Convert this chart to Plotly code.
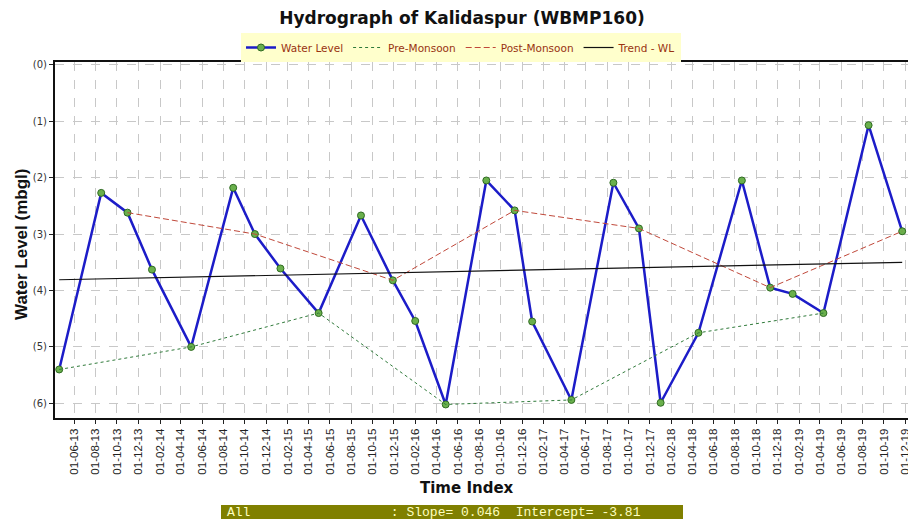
import pandas as pd
import plotly.graph_objects as go

# ---------------- data ----------------
dates = ["2013-04-19", "2013-08-17", "2013-10-31", "2014-01-09", "2014-05-01",
         "2014-08-29", "2014-10-30", "2015-01-11", "2015-04-30", "2015-08-29",
         "2015-11-28", "2016-01-31", "2016-04-27", "2016-08-21", "2016-11-10",
         "2016-12-30", "2017-04-21", "2017-08-19", "2017-10-31", "2018-01-01",
         "2018-04-19", "2018-08-21", "2018-11-10", "2019-01-13", "2019-04-11",
         "2019-08-18", "2019-11-22"]
water_level = [5.40, 2.27, 2.62, 3.63, 5.00, 2.18, 3.00, 3.61, 4.40, 2.67,
               3.82, 4.54, 6.02, 2.05, 2.58, 4.55, 5.94, 2.09, 2.90, 5.99,
               4.75, 2.05, 3.95, 4.06, 4.40, 1.07, 2.95]

pre_dates = ["2013-04-19", "2014-05-01", "2015-04-30", "2016-04-27",
             "2017-04-21", "2018-04-19", "2019-04-11"]
pre_level = [5.40, 5.00, 4.40, 6.02, 5.94, 4.75, 4.40]

post_dates = ["2013-10-31", "2014-10-30", "2015-11-28", "2016-11-10",
              "2017-10-31", "2018-11-10", "2019-11-22"]
post_level = [2.62, 3.00, 3.82, 2.58, 2.90, 3.95, 2.95]

trend_dates = ["2013-04-19", "2019-11-22"]
trend_level = [3.81, 3.50]

y_tick_vals = [0, 1, 2, 3, 4, 5, 6]
y_tick_text = ["(0)", "(1)", "(2)", "(3)", "(4)", "(5)", "(6)"]

x_ticks = pd.date_range("2013-06-01", "2019-12-01", freq="2MS")
x_tick_text = [d.strftime("%d-%m-%y") for d in x_ticks]

title_text = "Hydrograph of Kalidaspur (WBMP160)"
stats_text = "All                  : Slope= 0.046  Intercept= -3.81"

# ---------------- figure ----------------
# the page body has an 8px margin: shift everything by it
OFF = 8
W, H = 916 - OFF, 526 - OFF
L, R, T, B = 55 - OFF, 912 - OFF, 62 - OFF, 418 - OFF

SANS = "DejaVu Sans, Verdana, sans-serif"
ARIAL = "Liberation Sans, Arial, sans-serif"


def px(x):
    return (x - OFF - L) / (R - L)


def py(y):
    return (B - (y - OFF)) / (B - T)


fig = go.Figure()
fig.add_trace(go.Scatter(
    x=dates, y=water_level, name="Water Level", mode="lines+markers",
    line=dict(color="#1c1cc8", width=2.5),
    marker=dict(size=7, color="#6ab04c", line=dict(color="#2f6b22", width=1)),
))
fig.add_trace(go.Scatter(
    x=pre_dates, y=pre_level, name="Pre-Monsoon", mode="lines",
    line=dict(color="#2f7a3a", width=1, dash="3px,3px"),
))
fig.add_trace(go.Scatter(
    x=post_dates, y=post_level, name="Post-Monsoon", mode="lines",
    line=dict(color="#c0483a", width=1, dash="6px,3px"),
))
fig.add_trace(go.Scatter(
    x=trend_dates, y=trend_level, name="Trend - WL", mode="lines",
    line=dict(color="#111111", width=1.2),
))

fig.update_layout(
    width=W, height=H,
    margin=dict(l=L, r=W - R, t=T, b=H - B, autoexpand=False),
    paper_bgcolor="white", plot_bgcolor="white",
    font=dict(family=ARIAL, color="#222"),
    title=dict(text="<b>" + title_text + "</b>", x=(462 - OFF) / W,
               xanchor="center", y=1 - (18 - OFF) / H, yanchor="middle",
               font=dict(family=SANS, size=17, color="#111")),
    showlegend=True,
    legend=dict(orientation="h", x=px(461), xanchor="center",
                y=py(33), yanchor="top", bgcolor="#ffffcc",
                font=dict(family=SANS, size=10.5, color="#993311"),
                itemwidth=30, tracegroupgap=0),
    xaxis=dict(
        type="date", range=["2013-04-07", "2019-12-20"],
        tickmode="array", tickvals=list(x_ticks), ticktext=x_tick_text,
        tickangle=-90, tickfont=dict(family=ARIAL, size=11.5, color="#222"),
        ticks="outside", ticklen=4, tickcolor="#222",
        showgrid=True, gridcolor="#c8c8c8", griddash="dash", gridwidth=1,
        showline=True, linecolor="#111", linewidth=2, mirror=True,
        zeroline=False,
    ),
    yaxis=dict(
        range=[6.26, -0.05], tickmode="array", tickvals=y_tick_vals,
        ticktext=y_tick_text, tickfont=dict(family=SANS, size=10, color="#333"),
        ticks="outside", ticklen=4, tickcolor="#222",
        showgrid=True, gridcolor="#c8c8c8", griddash="dash", gridwidth=1,
        showline=True, linecolor="#111", linewidth=2, mirror=True,
        zeroline=False,
    ),
    shapes=[dict(type="rect", xref="paper", yref="paper",
                 x0=px(221), x1=px(683), y0=py(519), y1=py(505),
                 fillcolor="#808000", line=dict(width=0), layer="above")],
    annotations=[
        dict(text="<b>Water Level (mbgl)</b>", xref="paper", yref="paper",
             x=px(21), y=py(245), textangle=-90, showarrow=False,
             xanchor="center", yanchor="middle",
             font=dict(family=ARIAL, size=17, color="#111")),
        dict(text="<b>Time Index</b>", xref="paper", yref="paper",
             x=px(467), y=py(488), showarrow=False,
             xanchor="center", yanchor="middle",
             font=dict(family=SANS, size=15, color="#111")),
        dict(text=stats_text.replace(" ", "&nbsp;"), xref="paper", yref="paper",
             x=px(225), y=py(512), showarrow=False,
             xanchor="left", yanchor="middle",
             font=dict(family="Liberation Mono, Courier New, monospace",
                       size=13, color="#ffffc0")),
    ],
)

fig.write_html("out.html")
